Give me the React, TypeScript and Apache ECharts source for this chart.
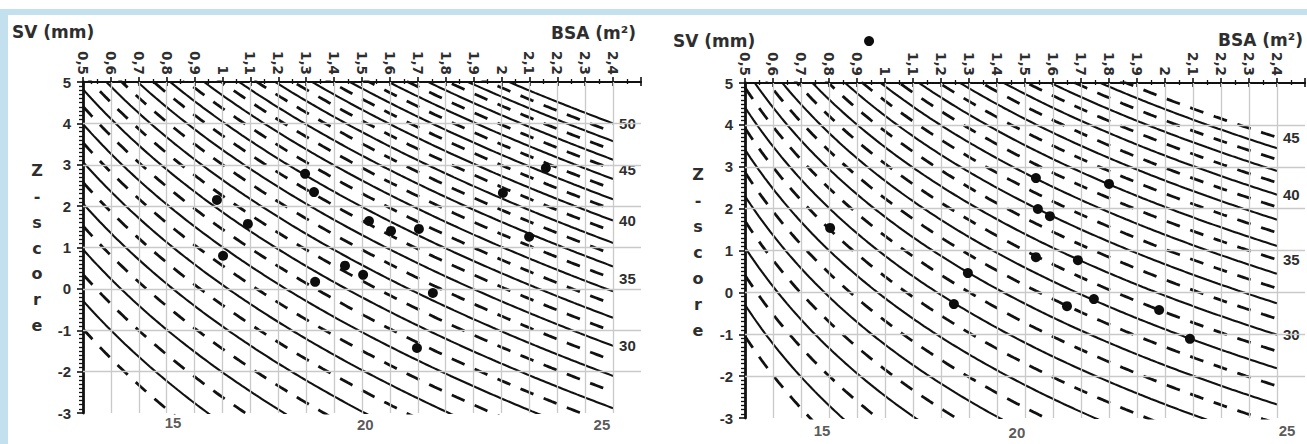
import React, { useEffect, useRef } from "react";
import * as echarts from "echarts";

// ---- Data ----
// SV iso-lines (mm): even values drawn solid, odd values dashed
const svLevelsLeft = [15, 16, 17, 18, 19, 20, 21, 22, 23, 24, 25, 26, 27, 28, 29, 30, 31, 32, 33, 34, 35, 36, 37, 38, 39, 40, 41, 42, 43, 44, 45, 46, 47, 48, 49, 50];
const svLevelsRight = [15, 16, 17, 18, 19, 20, 21, 22, 23, 24, 25, 26, 27, 28, 29, 30, 31, 32, 33, 34, 35, 36, 37, 38, 39, 40, 41, 42, 43, 44, 45];
// labelled line ends on the right edge
const endLabelsLeft = [30, 35, 40, 45, 50];
const endLabelsRight = [30, 35, 40, 45];
// ln(mean SV) = c0 + c1*ln(BSA) + c2*ln(BSA)^2 ; sd on log scale
const meanCoefLeft = [3.082, 0.4544, 0.0682];
const sdLogLeft = 0.095;
const meanCoefRight = [3.103, 0.44, 0];
const sdLogRight = 0.086;
// bottom SV labels: text, BSA, z
const bottomTextLeft = ["15", "20", "25"];
const bottomBsaLeft = [0.823, 1.512, 2.36];
const bottomZLeft = [-3.22, -3.29, -3.29];
const bottomTextRight = ["15", "20", "25"];
const bottomBsaRight = [0.775, 1.471, 2.436];
const bottomZRight = [-3.31, -3.35, -3.31];
// patients: [BSA, z-score]
const patientsLeft = [
  [0.98, 2.15], [1.091, 1.57], [1.002, 0.8], [1.296, 2.78], [1.328, 2.34],
  [1.525, 1.64], [1.604, 1.4], [1.704, 1.45], [2.005, 2.32], [2.159, 2.92],
  [2.099, 1.26], [1.439, 0.56], [1.504, 0.34], [1.332, 0.17], [1.754, -0.1],
  [1.697, -1.43],
];
const patientsRight = [
  [1.539, 2.73], [1.8, 2.59], [1.546, 1.99], [1.589, 1.82], [0.804, 1.54],
  [1.539, 0.84], [1.689, 0.77], [1.296, 0.46], [1.746, -0.16], [1.246, -0.28],
  [1.65, -0.33], [1.979, -0.42], [2.089, -1.11], [0.943, 6.0],
];
const gridBsa = [0.6, 0.7, 0.8, 0.9, 1.0, 1.1, 1.2, 1.3, 1.4, 1.5, 1.6, 1.7, 1.8, 1.9, 2.0, 2.1, 2.2, 2.3, 2.4];
const gridZ = [-2, -1, 0, 1, 2, 3, 4];

const INK = "#111111";
const TXT = "#2e2e2e";
const GRIDC = "#c9c9c9";

function lnMean(coef: number[], b: number) {
  const u = Math.log(b);
  return coef[0] + coef[1] * u + coef[2] * u * u;
}

const bsaSamples: number[] = [];
for (let i = 0; i <= 190; i++) bsaSamples.push(+(0.5 + i * 0.01).toFixed(2));

function buildPanel(p: number, levels: number[], coef: number[], sd: number, endLabels: number[], pts: number[][], bText: string[], bBsa: number[], bZ: number[]) {
  const xi = p * 2;
  const yi = p;
  const series: any[] = [];
  series.push({
    type: "scatter",
    xAxisIndex: xi,
    yAxisIndex: yi,
    data: [],
    silent: true,
    z: 1,
    markLine: {
      silent: true,
      symbol: "none",
      animation: false,
      label: { show: false },
      lineStyle: { color: GRIDC, width: 1.3, type: "solid" },
      data: [...gridBsa.map((v) => ({ xAxis: v })), ...gridZ.map((v) => ({ yAxis: v }))],
    },
  });
  levels.forEach((sv) => {
    const even = sv % 2 === 0;
    const s: any = {
      type: "line",
      name: String(sv),
      xAxisIndex: xi,
      yAxisIndex: yi,
      data: bsaSamples.map((b) => [b, (Math.log(sv) - lnMean(coef, b)) / sd]),
      showSymbol: false,
      symbol: "none",
      silent: true,
      clip: true,
      z: 3,
      lineStyle: { color: INK, width: even ? 2.1 : 2.8, type: even ? "solid" : [14, 11] },
    };
    if (endLabels.includes(sv)) {
      s.endLabel = {
        show: true,
        formatter: "{a}",
        distance: 6,
        color: TXT,
        fontFamily: "Liberation Sans",
        fontWeight: "bold",
        fontSize: 15,
      };
    }
    series.push(s);
  });
  series.push({
    type: "scatter",
    xAxisIndex: xi,
    yAxisIndex: yi,
    data: pts,
    symbol: "circle",
    symbolSize: 10,
    clip: false,
    z: 5,
    silent: true,
    itemStyle: { color: "#0d0d0d", opacity: 1 },
  });
  series.push({
    type: "scatter",
    xAxisIndex: xi,
    yAxisIndex: yi,
    data: bText.map((t, i) => [bBsa[i], bZ[i], t]),
    symbolSize: 1,
    clip: false,
    silent: true,
    itemStyle: { color: "rgba(0,0,0,0)" },
    label: {
      show: true,
      position: "inside",
      formatter: (q: any) => q.data[2],
      color: TXT,
      fontFamily: "Liberation Sans",
      fontWeight: "bold",
      fontSize: 15,
    },
  });
  return series;
}

function xAxes(grid: number) {
  const fmt = (v: number) => {
    if (v > 2.41) return "";
    return String(Math.round(v * 10) / 10).replace(".", ",");
  };
  return [
    {
      type: "value",
      gridIndex: grid,
      position: "top",
      min: 0.5,
      max: 2.5,
      interval: 0.1,
      axisLine: { show: true, onZero: false, lineStyle: { color: INK, width: 2.2 } },
      axisTick: { show: true, inside: false, length: 5, lineStyle: { color: INK, width: 1.6 } },
      minorTick: { show: true, splitNumber: 2, length: 3, lineStyle: { color: INK, width: 1.3 } },
      axisLabel: {
        show: true,
        rotate: 90,
        margin: 7,
        formatter: fmt,
        color: TXT,
        fontFamily: "DejaVu Sans",
        fontWeight: "bold",
        fontSize: 13.5,
      },
      splitLine: { show: false },
    },
    {
      type: "value",
      gridIndex: grid,
      position: "top",
      min: 0.5,
      max: 2.5,
      interval: 0.1,
      axisLine: { show: false, onZero: false },
      axisTick: { show: true, inside: true, length: 4, lineStyle: { color: INK, width: 1.6 } },
      minorTick: { show: true, splitNumber: 2, length: 2, lineStyle: { color: INK, width: 1.3 } },
      axisLabel: { show: false },
      splitLine: { show: false },
    },
  ];
}

function yAxis(grid: number) {
  return {
    type: "value",
    gridIndex: grid,
    position: "left",
    min: -3,
    max: 5,
    interval: 1,
    axisLine: { show: true, onZero: false, lineStyle: { color: INK, width: 2.8 } },
    axisTick: { show: true, length: 6, lineStyle: { color: INK, width: 1.6 } },
    minorTick: { show: true, splitNumber: 10, length: 4, lineStyle: { color: INK, width: 1.3 } },
    axisLabel: {
      margin: 12,
      color: TXT,
      fontFamily: "Liberation Sans",
      fontWeight: "bold",
      fontSize: 15,
    },
    splitLine: { show: false },
  };
}

const titleFont = 'bold 17px "DejaVu Sans"';

export default function App() {
  const ref = useRef<HTMLDivElement>(null);
  useEffect(() => {
    if (!ref.current) return;
    const chart = echarts.init(ref.current, null, { renderer: "svg" });
    const option: any = {
      animation: false,
      backgroundColor: "#ffffff",
      grid: [
        { left: 83, top: 82, width: 558, height: 331 },
        { left: 745, top: 83, width: 560, height: 335 },
      ],
      xAxis: [...xAxes(0), ...xAxes(1)],
      yAxis: [yAxis(0), yAxis(1)],
      series: [
        ...buildPanel(0, svLevelsLeft, meanCoefLeft, sdLogLeft, endLabelsLeft, patientsLeft, bottomTextLeft, bottomBsaLeft, bottomZLeft),
        ...buildPanel(1, svLevelsRight, meanCoefRight, sdLogRight, endLabelsRight, patientsRight, bottomTextRight, bottomBsaRight, bottomZRight),
      ],
      graphic: [
        { type: "rect", silent: true, z: -1, shape: { x: 0, y: 9, width: 1307, height: 6 }, style: { fill: "#c2e0ee" } },
        { type: "rect", silent: true, z: -1, shape: { x: 0, y: 9, width: 8, height: 435 }, style: { fill: "#c2e0ee" } },
        { type: "text", silent: true, style: { text: "SV (mm)", x: 12, y: 32, textVerticalAlign: "middle", font: titleFont, fill: TXT } },
        { type: "text", silent: true, style: { text: "BSA (m²)", x: 636, y: 33, textAlign: "right", textVerticalAlign: "middle", font: titleFont, fill: TXT } },
        { type: "text", silent: true, style: { text: "SV (mm)", x: 673, y: 41, textVerticalAlign: "middle", font: titleFont, fill: TXT } },
        { type: "text", silent: true, style: { text: "BSA (m²)", x: 1303, y: 40, textAlign: "right", textVerticalAlign: "middle", font: titleFont, fill: TXT } },
        { type: "text", silent: true, style: { text: "Z\n-\ns\nc\no\nr\ne", x: 37, y: 248, textAlign: "center", textVerticalAlign: "middle", lineHeight: 25.7, font: 'bold 16px "DejaVu Sans"', fill: TXT } },
        { type: "text", silent: true, style: { text: "Z\n-\ns\nc\no\nr\ne", x: 698, y: 252, textAlign: "center", textVerticalAlign: "middle", lineHeight: 26, font: 'bold 16px "DejaVu Sans"', fill: TXT } },
      ],
    };
    chart.setOption(option);
    return () => chart.dispose();
  }, []);
  return (
    <div
      ref={ref}
      style={{ position: "fixed", left: 0, top: 0, width: 1307, height: 444, background: "#fff" }}
    />
  );
}
